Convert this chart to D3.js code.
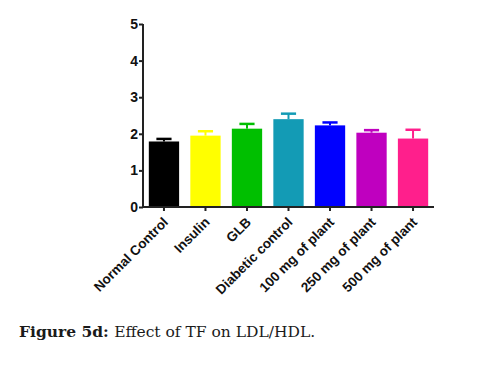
<!DOCTYPE html>
<html>
<head>
  <style>
    body, html { margin: 0; padding: 0; background: #fff; }
    .tick text { font-family: "Liberation Sans", Arial, sans-serif; font-weight: bold; }
  </style>
</head>
<body>
  <svg id="svg" width="484" height="365"></svg>
  <script src="https://d3js.org/d3.v7.min.js"></script>
  <script>
    const groups = ["Normal Control", "Insulin", "GLB", "Diabetic control",
      "100 mg of plant", "250 mg of plant", "500 mg of plant"]
    const means = [1.79, 1.95, 2.14, 2.40, 2.23, 2.03, 1.87]
    const errors = [0.07, 0.12, 0.13, 0.15, 0.08, 0.07, 0.24]
    const colors = ["#000000", "#ffff00", "#00bf00", "#139bb5", "#0000ff", "#bf00bf", "#ff1f8c"]
    const yTicks = [0, 1, 2, 3, 4, 5]

    const svg = d3.select("#svg")
    const mLeft = 143, mRight = 434, mTop = 24, mBottom = 207

    const x = d3.scaleBand()
      .domain(groups)
      .range([mLeft, mRight])
      .paddingInner(0.27)
      .paddingOuter(0.14)

    const y = d3.scaleLinear()
      .domain([0, 5])
      .range([mBottom, mTop])

    const data = groups.map((g, i) => ({ g, v: means[i], e: errors[i], c: colors[i] }))

    // error bars (drawn first so bar covers lower half)
    const capW = x.bandwidth() * 0.5
    const eb = svg.append("g")
    data.forEach(d => {
      const cx = x(d.g) + x.bandwidth() / 2
      eb.append("line")
        .attr("x1", cx).attr("x2", cx)
        .attr("y1", y(d.v)).attr("y2", y(d.v + d.e))
        .attr("stroke", d.c).attr("stroke-width", 2)
      eb.append("line")
        .attr("x1", cx - capW / 2).attr("x2", cx + capW / 2)
        .attr("y1", y(d.v + d.e)).attr("y2", y(d.v + d.e))
        .attr("stroke", d.c).attr("stroke-width", 2.5)
    })

    svg.append("g")
      .selectAll("rect")
      .data(data)
      .join("rect")
      .attr("x", d => x(d.g))
      .attr("y", d => y(d.v))
      .attr("width", x.bandwidth())
      .attr("height", d => y(0) - y(d.v))
      .attr("fill", d => d.c)

    const yAxis = svg.append("g")
      .attr("transform", `translate(${mLeft},0)`)
      .call(d3.axisLeft(y).tickValues(yTicks).tickFormat(d3.format("d")).tickSize(4).tickPadding(1))
    yAxis.selectAll("path, line").attr("stroke", "#222").attr("stroke-width", 2)
    yAxis.select(".domain").attr("d", `M0,${mTop}V${mBottom}`)
    yAxis.selectAll("text").attr("font-size", 14).attr("fill", "#111")

    const xAxis = svg.append("g")
      .attr("transform", `translate(0,${mBottom})`)
      .call(d3.axisBottom(x).tickSize(4).tickSizeOuter(0))
    xAxis.selectAll("path, line").attr("stroke", "#222").attr("stroke-width", 2)
    xAxis.select(".domain").attr("d", `M${mLeft},0H${mRight}`)
    xAxis.selectAll("text")
      .attr("font-size", 13.5)
      .attr("fill", "#111")
      .attr("text-anchor", "end")
      .attr("y", 0)
      .attr("dy", 0)
      .attr("transform", "translate(5,16) rotate(-45)")

    const cap = svg.append("text")
      .attr("x", 19)
      .attr("y", 337)
      .attr("font-family", "'DejaVu Serif', serif")
      .attr("font-size", 15.5)
      .attr("fill", "#1a1a1a")
    cap.append("tspan").attr("font-weight", "bold").text("Figure 5d: ")
    cap.append("tspan").text("Effect of TF on LDL/HDL.")
  </script>
</body>
</html>
